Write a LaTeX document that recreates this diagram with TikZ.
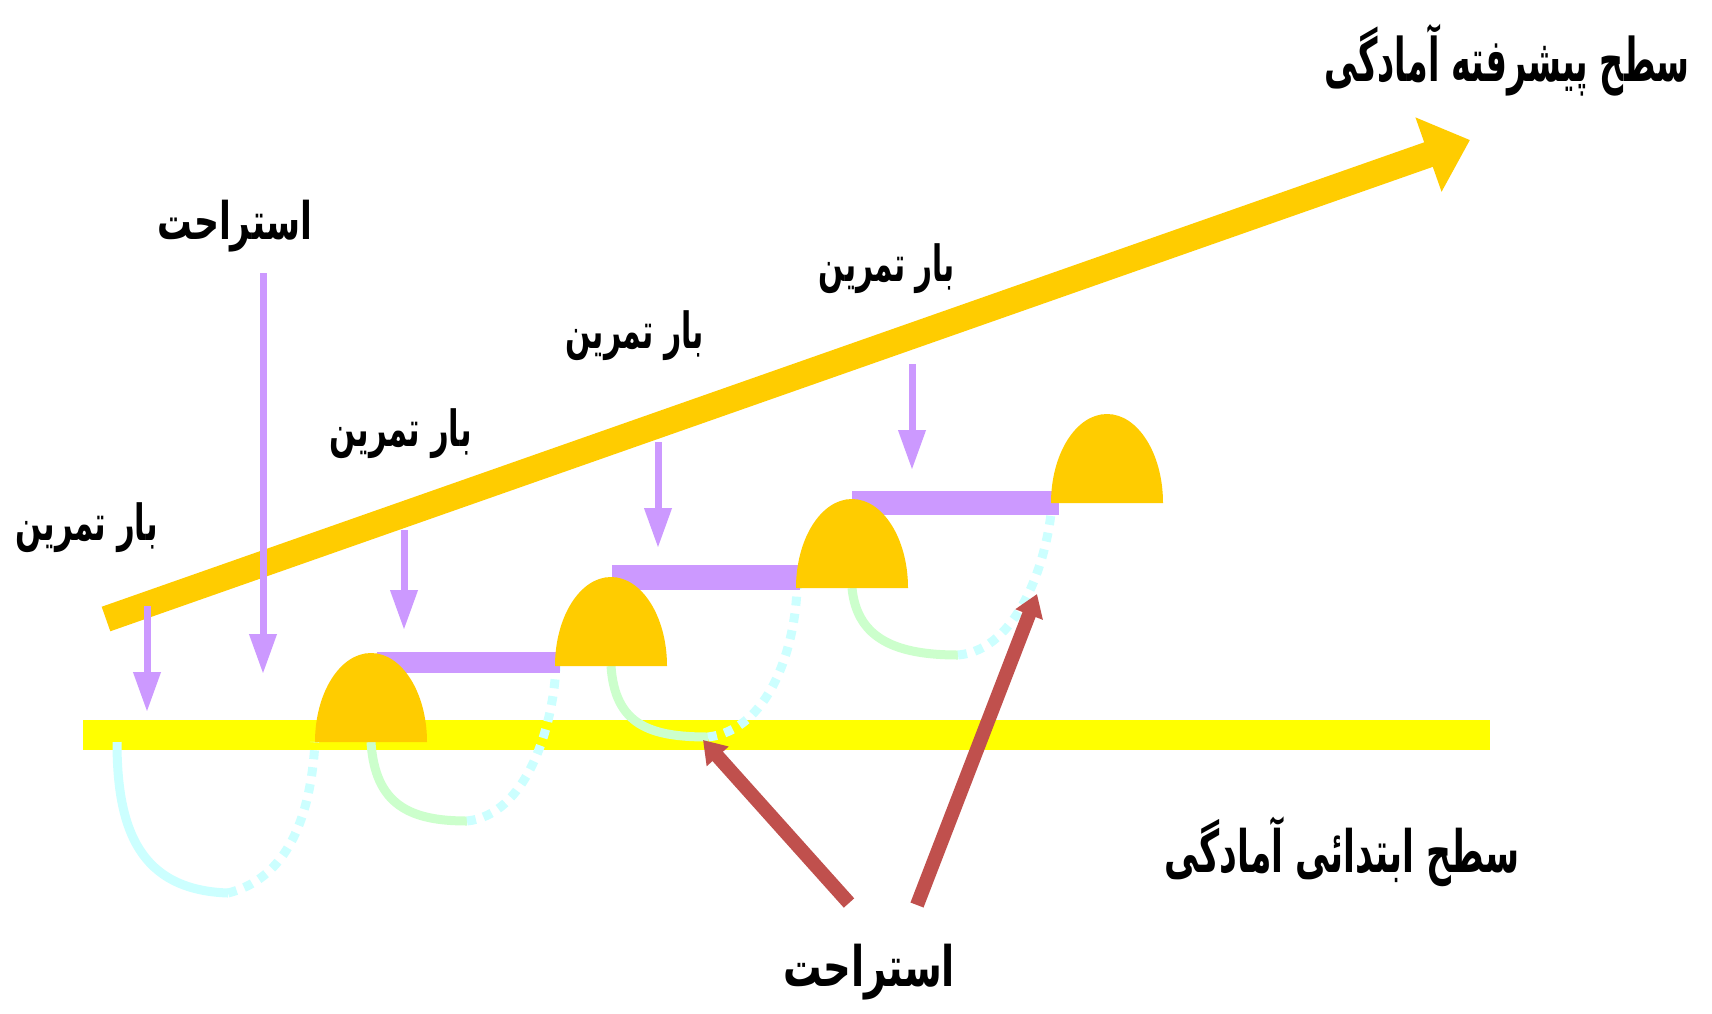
\documentclass[tikz,border=0pt]{standalone}
\usepackage{fontspec}
\usepackage{graphicx}
\usetikzlibrary{arrows.meta}
\TeXXeTstate=1
\newfontfamily\fafont[Script=Arabic]{DejaVu Sans}
% box scaled to a given width and total height
\newcommand\fabox[3]{\resizebox*{#1}{#2}{\fafont\bfseries #3}}

\definecolor{humpgold}{HTML}{FFCC00}
\definecolor{baseyellow}{HTML}{FFFF00}
\definecolor{loadviolet}{HTML}{CC99FF}
\definecolor{restcyan}{HTML}{CCFFFF}
\definecolor{recovgreen}{HTML}{CCFFCC}
\definecolor{restred}{HTML}{C0504D}

\begin{document}
\begin{tikzpicture}[x=1pt,y=-1pt,
  lbl/.style={inner sep=0pt,text=black},
  levelband/.style={draw=baseyellow,line width=30pt},
  advarrow/.style={draw=humpgold,line width=26pt,-{Triangle[length=44pt,width=76pt]}},
  loadbar/.style={draw=loadviolet,line width=#1},
  loadarrow/.style={draw=loadviolet,line width=7pt,-{Triangle[length=40pt,width=26pt]}},
  restarrow/.style={draw=restred,line width=14pt,-{Triangle[length=22pt,width=28pt]}},
  hump/.style={fill=humpgold},
  restcurve/.style={draw=restcyan,line width=9pt},
  gapcurve/.style={draw=restcyan,line width=9pt,dash pattern=on 9pt off 8pt},
  recovcurve/.style={draw=recovgreen,line width=9pt}]

\fill[white] (0,0) rectangle (1712,1013);
\useasboundingbox (0,0) rectangle (1712,1013);

% key points
\coordinate (base-l) at (83,735);
\coordinate (base-r) at (1490,735);
\coordinate (adv-s) at (106,619);
\coordinate (adv-e) at (1470,140);
\coordinate (h1) at (371,742);
\coordinate (h2) at (611,666);
\coordinate (h3) at (852,588);
\coordinate (h4) at (1107,503);
\coordinate (h1l) at (315,742);
\coordinate (h2l) at (556,666);
\coordinate (h3l) at (797,588);
\coordinate (h4l) at (1052,503);
\coordinate (c0) at (117,742);
\coordinate (l0) at (228,893);
\coordinate (l1) at (467,821);
\coordinate (l2) at (708,737);
\coordinate (l3) at (958,655);

% initial level
\draw[levelband] (base-l) -- (base-r);

% rest / recovery curves
\draw[restcurve] (c0) .. controls (117,830) and (140,890) .. (l0);
\draw[gapcurve] (l0) .. controls (280,880) and (310,830) .. (h1l);
\draw[recovcurve] (h1) .. controls (375,805) and (410,821) .. (l1);
\draw[gapcurve] (l1) .. controls (525,815) and (553,730) .. (h2l);
\draw[recovcurve] (h2) .. controls (615,725) and (650,737) .. (l2);
\draw[gapcurve] (l2) .. controls (768,730) and (795,650) .. (h3l);
\draw[recovcurve] (h3) .. controls (857,640) and (898,655) .. (l3);
\draw[gapcurve] (l3) .. controls (1018,650) and (1048,560) .. (h4l);

% load plateaus
\coordinate (b1s) at (377,662); \coordinate (b1e) at (560,662);
\coordinate (b2s) at (612,577); \coordinate (b2e) at (800,577);
\coordinate (b3s) at (852,503); \coordinate (b3e) at (1059,503);
\draw[loadbar=21pt] (b1s) -- (b1e);
\draw[loadbar=25pt] (b2s) -- (b2e);
\draw[loadbar=24pt] (b3s) -- (b3e);

% supercompensation humps
\foreach \h in {h1,h2,h3,h4}
  \fill[hump] (\h) ++(-56,0) arc[start angle=180,end angle=360,x radius=56,y radius=89] -- cycle;

% advanced level arrow
\draw[advarrow] (adv-s) -- (adv-e);

% labels
\node[lbl] (title-adv) at (1507,60) {\fabox{365pt}{72pt}{\beginR سطح پیشرفته آمادگی\endR}};
\node[lbl] (title-base) at (1342,852) {\fabox{355pt}{70pt}{\beginR سطح ابتدائی آمادگی\endR}};
\node[lbl] (rest-top) at (235,226) {\fabox{155pt}{52pt}{\beginR استراحت\endR}};
\node[lbl] (rest-bot) at (869,972) {\fabox{172pt}{56pt}{\beginR استراحت\endR}};
\node[lbl] (load1) at (87,528) {\fabox{142pt}{50pt}{\beginR بار تمرین\endR}};
\node[lbl] (load2) at (401,434) {\fabox{142pt}{50pt}{\beginR بار تمرین\endR}};
\node[lbl] (load3) at (635,336) {\fabox{138pt}{50pt}{\beginR بار تمرین\endR}};
\node[lbl] (load4) at (887,269) {\fabox{136pt}{50pt}{\beginR بار تمرین\endR}};

% load arrows
\coordinate (pa-s) at (147,606); \coordinate (pa-e) at (147,712);
\coordinate (pb-s) at (263,273); \coordinate (pb-e) at (263,674);
\coordinate (pc-s) at (404,530); \coordinate (pc-e) at (404,630);
\coordinate (pd-s) at (658,442); \coordinate (pd-e) at (658,548);
\coordinate (pe-s) at (912,364); \coordinate (pe-e) at (912,470);
\draw[loadarrow] (pa-s) -- (pa-e);
\draw[loadarrow] (pb-s) -- (pb-e);
\draw[loadarrow] (pc-s) -- (pc-e);
\draw[loadarrow] (pd-s) -- (pd-e);
\draw[loadarrow] (pe-s) -- (pe-e);

% rest arrows
\coordinate (r1s) at (849,903); \coordinate (r1e) at (703,740);
\coordinate (r2s) at (917,905); \coordinate (r2e) at (1037,594);
\draw[restarrow] (r1s) -- (r1e);
\draw[restarrow] (r2s) -- (r2e);
\end{tikzpicture}
\end{document}
